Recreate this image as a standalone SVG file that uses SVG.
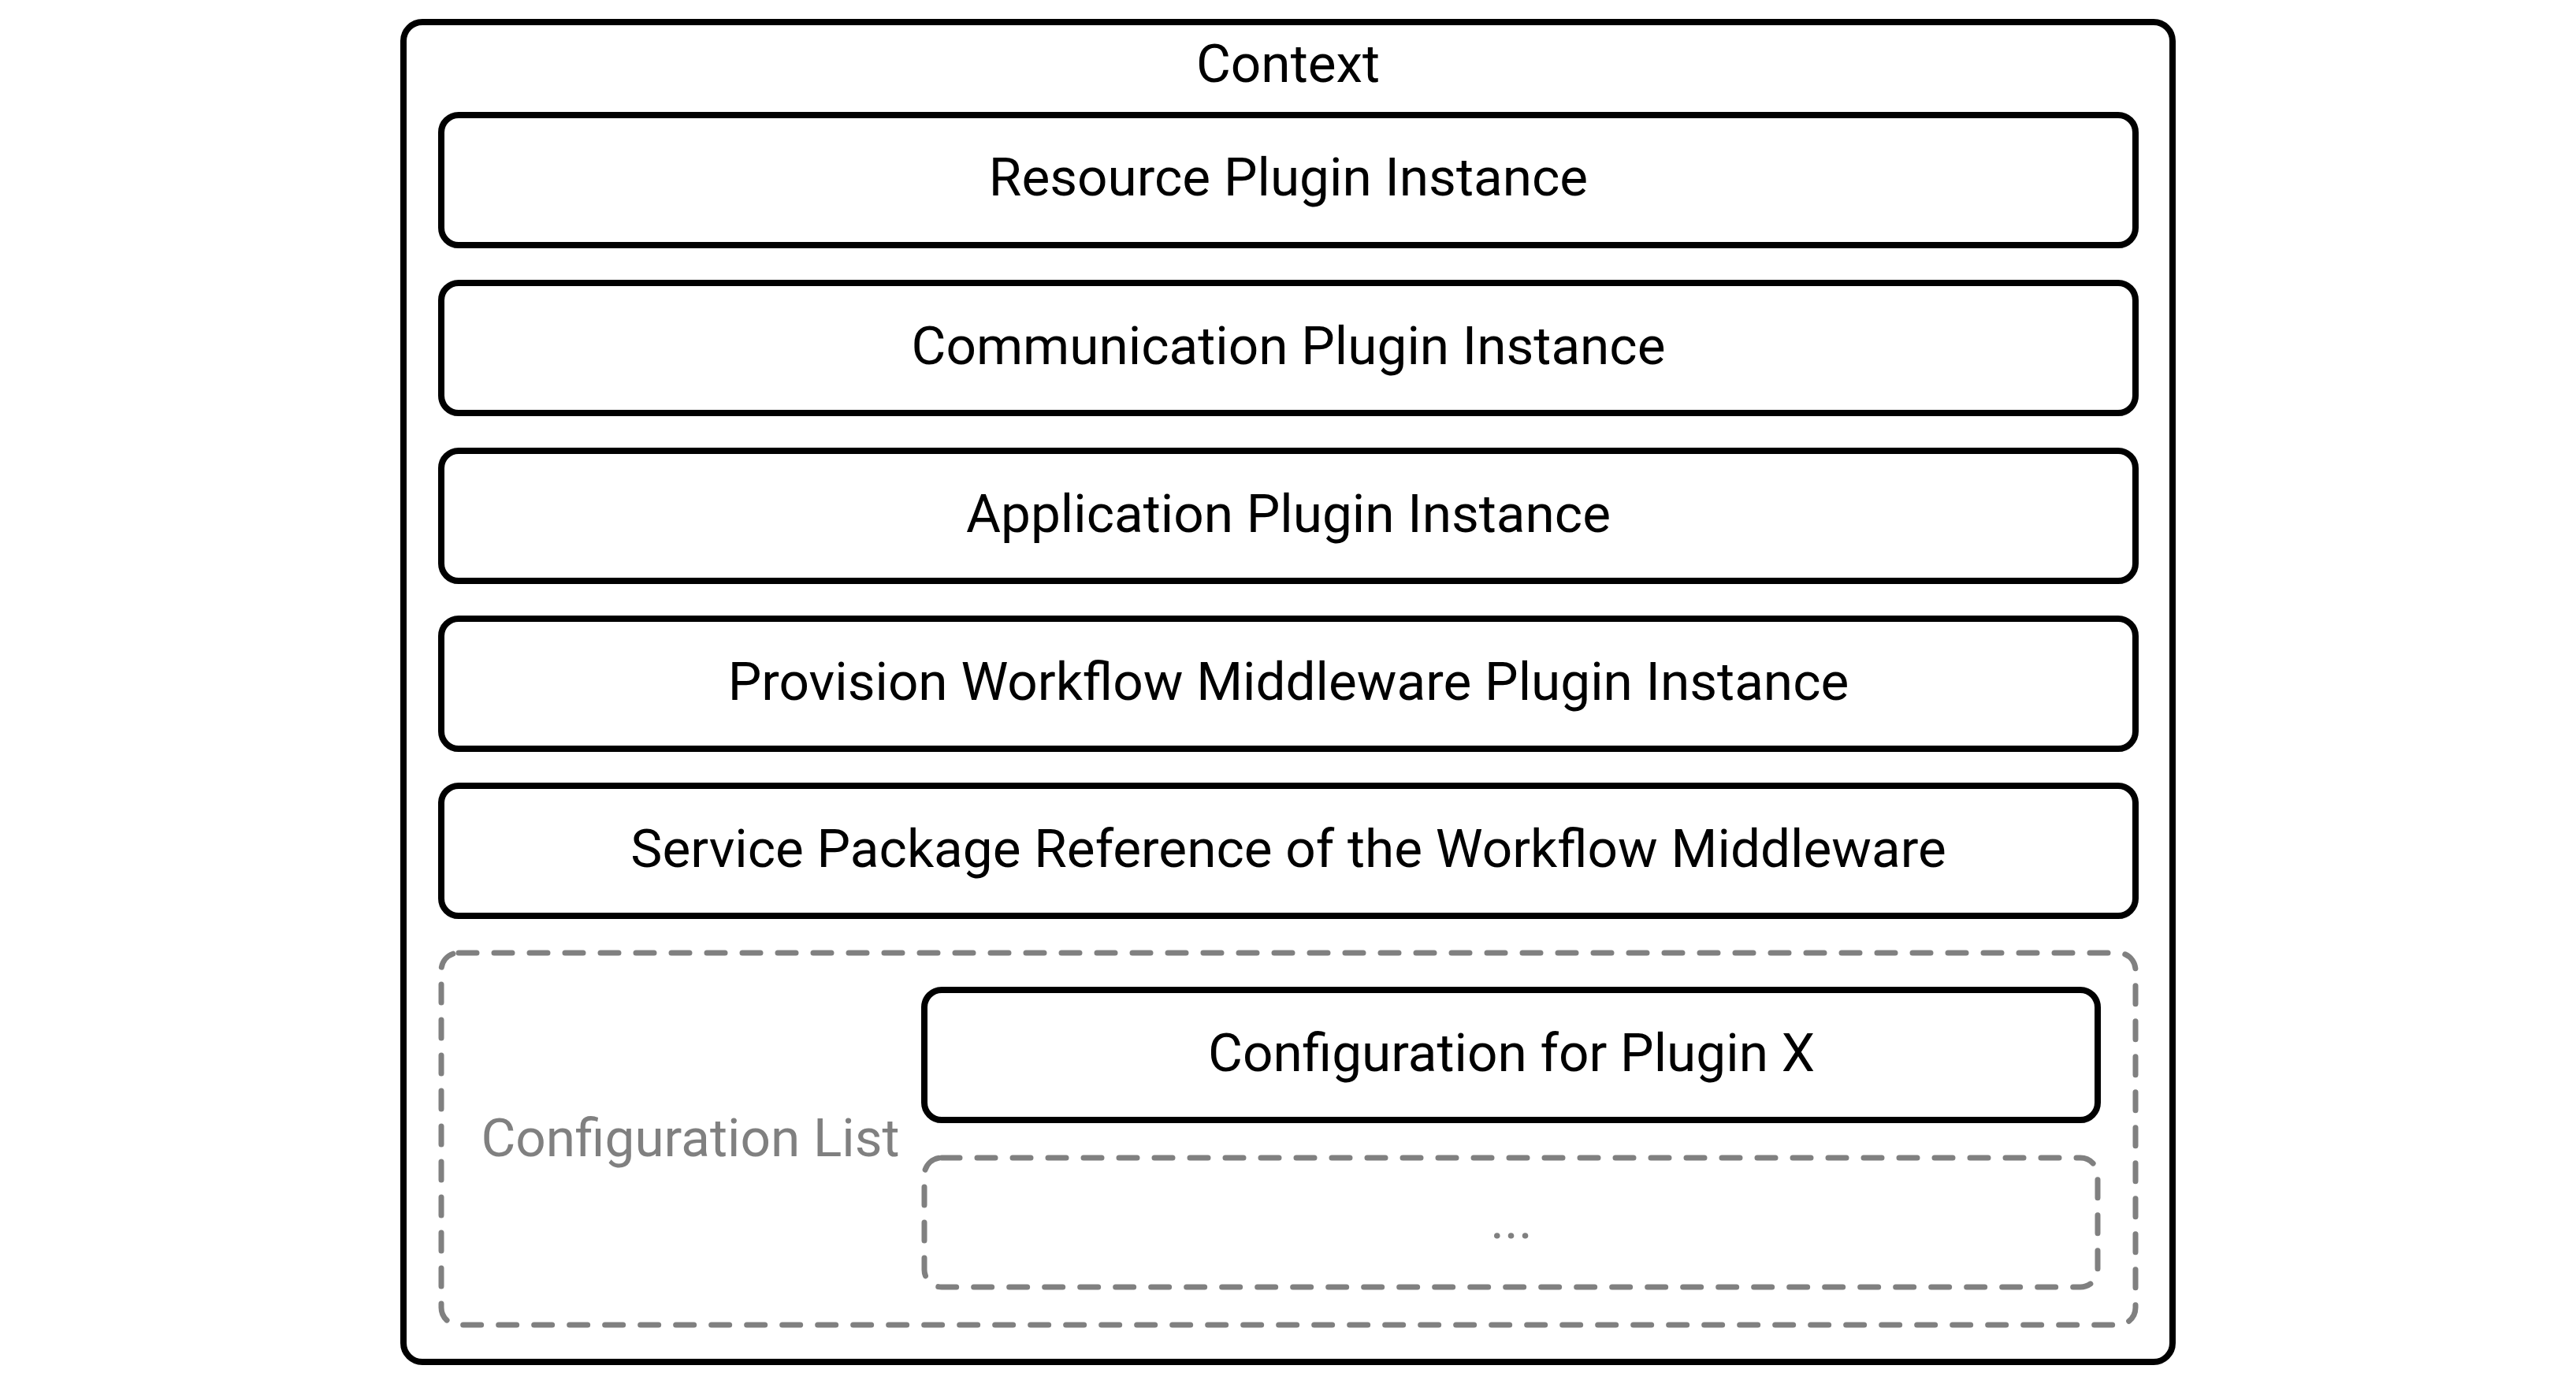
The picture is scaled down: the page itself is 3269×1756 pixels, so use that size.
<svg xmlns="http://www.w3.org/2000/svg" width="3269" height="1756" viewBox="0 0 3269 1756">
<style>
.bg{fill:#ffffff}
.solid{fill:#ffffff;stroke:#000000;stroke-width:8}
.dash{fill:none;stroke:#808080;stroke-width:7;stroke-dasharray:23 22;stroke-linecap:round}
.t{font-family:Roboto,"Liberation Sans",sans-serif;font-size:67.5px;fill:#000000;text-anchor:middle}
.g{fill:#808080}
</style>
<rect class="bg" x="0" y="0" width="3269" height="1756"/>
<g id="context">
<rect class="solid" x="512" y="28" width="2245" height="1700" rx="24" ry="24"/>
<text class="t" x="1634.5" y="104">Context</text>
</g>
<g id="resource-plugin">
<rect class="solid" x="560" y="146" width="2150" height="165" rx="22" ry="22"/>
<text class="t" x="1635" y="248">Resource Plugin Instance</text>
</g>
<g id="communication-plugin">
<rect class="solid" x="560" y="359" width="2150" height="165" rx="22" ry="22"/>
<text class="t" x="1635" y="461.5">Communication Plugin Instance</text>
</g>
<g id="application-plugin">
<rect class="solid" x="560" y="572" width="2150" height="165" rx="22" ry="22"/>
<text class="t" x="1635" y="674.5">Application Plugin Instance</text>
</g>
<g id="provision-plugin">
<rect class="solid" x="560" y="785" width="2150" height="165" rx="22" ry="22"/>
<text class="t" x="1635" y="887.5">Provision Workflow Middleware Plugin Instance</text>
</g>
<g id="service-package">
<rect class="solid" x="560" y="997" width="2150" height="165" rx="22" ry="22"/>
<text class="t" x="1635" y="1100">Service Package Reference of the Workflow Middleware</text>
</g>
<g id="configuration-list">
<rect class="dash" x="560" y="1209" width="2150" height="472" rx="22" ry="22"/>
<text class="t g" x="876" y="1467">Configuration List</text>
</g>
<g id="config-plugin-x">
<rect class="solid" x="1173" y="1256" width="1489" height="165" rx="22" ry="22"/>
<text class="t" x="1918" y="1358.5">Configuration for Plugin X</text>
</g>
<g id="config-more">
<rect class="dash" x="1173" y="1469" width="1489" height="164" rx="22" ry="22"/>
<text class="t g" x="1918" y="1571">...</text>
</g>
<g id="connectors"></g>
</svg>
